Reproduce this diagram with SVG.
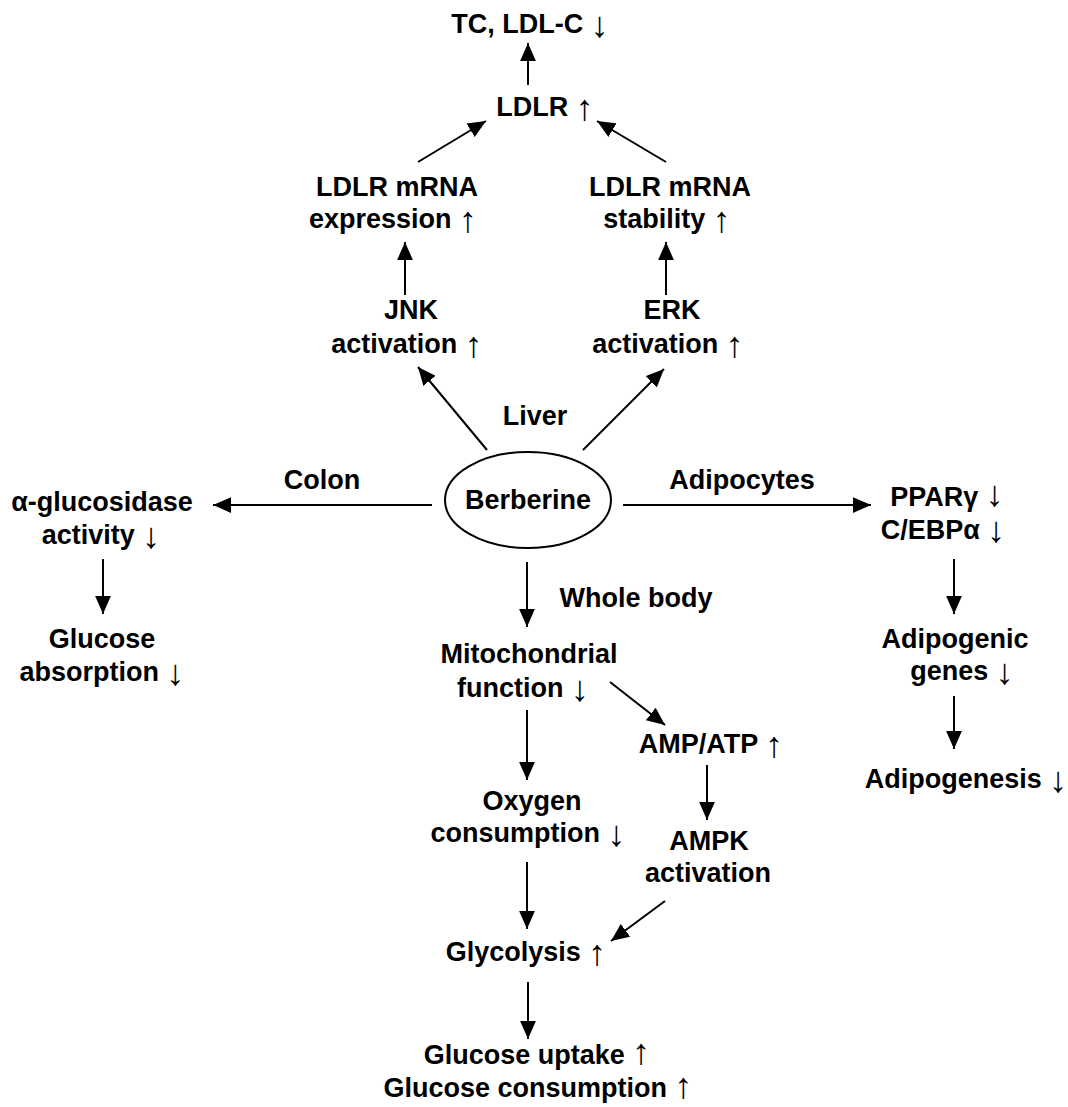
<svg xmlns="http://www.w3.org/2000/svg" width="1068" height="1107" viewBox="0 0 1068 1107">
<style>
text{font-family:"Liberation Sans",Arial,sans-serif;font-weight:bold;font-size:27px;fill:#000;text-anchor:middle}
.a{font-family:"Liberation Serif","Times New Roman",serif;font-weight:normal;font-size:36px}
.c{stroke:#000;stroke-width:2;fill:none;marker-end:url(#ah)}
</style>
<defs>
<marker id="ah" markerUnits="userSpaceOnUse" markerWidth="18" markerHeight="16" refX="16" refY="7" orient="auto" viewBox="0 0 16 14">
<path d="M0,0 L16,7 L0,14 z" fill="#000"/>
</marker>
</defs>
<rect width="1068" height="1107" fill="#fff"/>
<g id="connectors">
<line class="c" x1="528" y1="85" x2="528" y2="43"/>
<line class="c" x1="418" y1="162" x2="486" y2="121"/>
<line class="c" x1="666" y1="162" x2="597" y2="121"/>
<line class="c" x1="405" y1="295" x2="405" y2="242"/>
<line class="c" x1="666" y1="295" x2="666" y2="242"/>
<line class="c" x1="487" y1="450" x2="418" y2="367"/>
<line class="c" x1="583" y1="450" x2="664" y2="369"/>
<line class="c" x1="432" y1="505" x2="213" y2="505"/>
<line class="c" x1="623" y1="505" x2="871" y2="505"/>
<line class="c" x1="103" y1="559" x2="103" y2="614"/>
<line class="c" x1="954" y1="559" x2="954" y2="614"/>
<line class="c" x1="954" y1="696" x2="954" y2="749"/>
<line class="c" x1="527" y1="562" x2="527" y2="627"/>
<line class="c" x1="610" y1="682" x2="665" y2="725"/>
<line class="c" x1="527" y1="710" x2="527" y2="780"/>
<line class="c" x1="707" y1="765" x2="707" y2="820"/>
<line class="c" x1="527" y1="862" x2="527" y2="929"/>
<line class="c" x1="665" y1="901" x2="611" y2="941"/>
<line class="c" x1="528" y1="982" x2="528" y2="1039"/>
</g>
<g id="tc"><text x="530" y="33">TC, LDL-C <tspan class="a" dy="4">↓</tspan></text></g>
<g id="ldlr"><text x="545" y="116">LDLR <tspan class="a" dy="4">↑</tspan></text></g>
<g id="expr"><text x="397" y="196">LDLR mRNA</text><text x="393" y="228">expression <tspan class="a" dy="4">↑</tspan></text></g>
<g id="stab"><text x="670" y="196">LDLR mRNA</text><text x="667" y="228">stability <tspan class="a" dy="4">↑</tspan></text></g>
<g id="jnk"><text x="411" y="319">JNK</text><text x="407" y="353">activation <tspan class="a" dy="4">↑</tspan></text></g>
<g id="erk"><text x="672" y="319">ERK</text><text x="668" y="353">activation <tspan class="a" dy="4">↑</tspan></text></g>
<g id="liver"><text x="535" y="425">Liver</text></g>
<g id="berberine"><ellipse cx="528" cy="500" rx="83" ry="48" fill="none" stroke="#000" stroke-width="2"/><text x="528" y="509">Berberine</text></g>
<g id="colon"><text x="322" y="489">Colon</text></g>
<g id="adipocytes"><text x="742" y="489">Adipocytes</text></g>
<g id="aglu"><text x="102" y="511">α-glucosidase</text><text x="101" y="544">activity <tspan class="a" dy="4">↓</tspan></text></g>
<g id="gabs"><text x="102" y="648">Glucose</text><text x="102" y="681">absorption <tspan class="a" dy="4">↓</tspan></text></g>
<g id="ppar"><text x="947" y="506">PPARγ <tspan class="a">↓</tspan></text><text x="943" y="539">C/EBPα <tspan class="a" dy="3">↓</tspan></text></g>
<g id="adgenes"><text x="955" y="648">Adipogenic</text><text x="962" y="680">genes <tspan class="a" dy="4">↓</tspan></text></g>
<g id="adgen"><text x="966" y="788">Adipogenesis <tspan class="a" dy="4">↓</tspan></text></g>
<g id="whole"><text x="636" y="607">Whole body</text></g>
<g id="mito"><text x="529" y="663">Mitochondrial</text><text x="523" y="697">function <tspan class="a" dy="4">↓</tspan></text></g>
<g id="amp"><text x="711" y="753">AMP/ATP <tspan class="a" dy="4">↑</tspan></text></g>
<g id="oxy"><text x="532" y="810">Oxygen</text><text x="528" y="842">consumption <tspan class="a" dy="4">↓</tspan></text></g>
<g id="ampk"><text x="709" y="850">AMPK</text><text x="708" y="882">activation</text></g>
<g id="gly"><text x="526" y="961">Glycolysis <tspan class="a" dy="4">↑</tspan></text></g>
<g id="gluc"><text x="537" y="1064">Glucose uptake <tspan class="a">↑</tspan></text><text x="538" y="1097">Glucose consumption <tspan class="a" dy="1">↑</tspan></text></g>
</svg>
